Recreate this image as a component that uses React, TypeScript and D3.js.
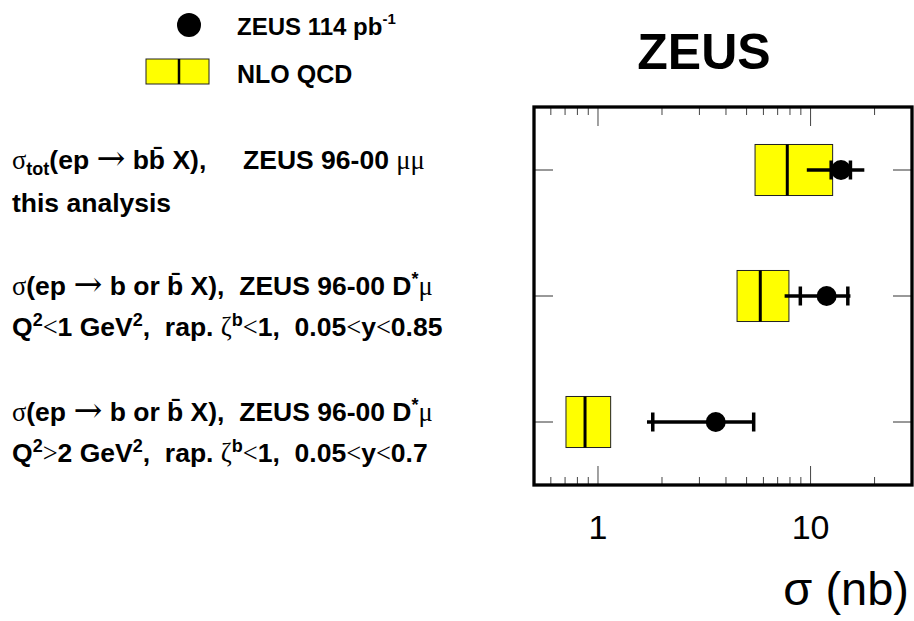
import React from 'react'
import * as d3 from 'd3'

// measurements, one entry per row (top to bottom)
const rows = ['tot', 'dmuLowQ2', 'dmuHighQ2']
const zeusVal = [13.9, 11.9, 3.58]
const statLo = [12.5, 8.95, 1.81]
const statHi = [15.4, 14.97, 5.4]
const totLo = [9.6, 7.55, 1.7]
const totHi = [17.9, 15.4, 5.4]
// NLO QCD band
const nloLo = [5.48, 4.51, 0.707]
const nloMid = [7.77, 5.8, 0.869]
const nloHi = [12.7, 7.91, 1.147]

const xDomain = [0.5, 30]
const majorTicks = [1, 10]
const minorTicks = [0.6, 0.7, 0.8, 0.9, 2, 3, 4, 5, 6, 7, 8, 9, 20]
const tickLabels = ['1', '10']

type Seg = { t: string; sym?: boolean; arrow?: boolean; sub?: boolean; sup?: boolean }

const labelLine1: Seg[][] = [
  [{ t: 'σ', sym: true }, { t: 'tot', sub: true }, { t: '(ep ' }, { t: '→', arrow: true }, { t: ' bb\u0304 X),     ZEUS 96-00 ' }, { t: 'μμ', sym: true }],
  [{ t: 'σ', sym: true }, { t: '(ep ' }, { t: '→', arrow: true }, { t: ' b or b\u0304 X),  ZEUS 96-00 D' }, { t: '*', sup: true }, { t: 'μ', sym: true }],
  [{ t: 'σ', sym: true }, { t: '(ep ' }, { t: '→', arrow: true }, { t: ' b or b\u0304 X),  ZEUS 96-00 D' }, { t: '*', sup: true }, { t: 'μ', sym: true }],
]
const labelLine2: Seg[][] = [
  [{ t: 'this analysis' }],
  [{ t: 'Q' }, { t: '2', sup: true }, { t: '<', sym: true }, { t: '1 GeV' }, { t: '2', sup: true }, { t: ',  rap. ' }, { t: 'ζ', sym: true }, { t: 'b', sup: true }, { t: '<', sym: true }, { t: '1,  0.05' }, { t: '<', sym: true }, { t: 'y' }, { t: '<', sym: true }, { t: '0.85' }],
  [{ t: 'Q' }, { t: '2', sup: true }, { t: '>', sym: true }, { t: '2 GeV' }, { t: '2', sup: true }, { t: ',  rap. ' }, { t: 'ζ', sym: true }, { t: 'b', sup: true }, { t: '<', sym: true }, { t: '1,  0.05' }, { t: '<', sym: true }, { t: 'y' }, { t: '<', sym: true }, { t: '0.7' }],
]

const W = 914
const H = 621
const SANS = '"Liberation Sans", Arial, sans-serif'
const SERIF = '"Liberation Serif", "Times New Roman", serif'
const ARROW = '"DejaVu Serif", "DejaVu Sans", serif'

function RichText({ segs, x, y, size }: { segs: Seg[]; x: number; y: number; size: number }) {
  let cur = 0
  return (
    <text x={x} y={y} fontFamily={SANS} fontWeight="bold" fontSize={size} style={{ whiteSpace: 'pre' }}>
      {segs.map((s, i) => {
        const off = s.sub ? 6 : s.sup ? -10 : s.arrow ? 1 : 0
        const dy = off - cur
        cur = off
        let fs = size
        if (s.sub || s.sup) fs = size * 0.68
        if (s.arrow) fs = size * 1.3
        return (
          <tspan key={i} dy={dy} fontSize={fs}
            fontFamily={s.arrow ? ARROW : s.sym ? SERIF : SANS}
            fontWeight={s.sym || s.arrow ? 'normal' : 'bold'}>
            {s.t}
          </tspan>
        )
      })}
    </text>
  )
}

export default function App() {
  const frame = { left: 534, right: 912, top: 107, bottom: 485 }
  const x = d3.scaleLog().domain(xDomain).range([frame.left, frame.right])
  const y = d3.scaleBand().domain(rows).range([frame.top, frame.bottom])
  const bw = y.bandwidth()
  const cy = (r: string) => (y(r) as number) + bw / 2
  const boxH = bw * 0.405

  return (
    <svg width={W} height={H} style={{ position: 'absolute', left: 0, top: 0, background: '#fff' }}>
      {/* legend */}
      <circle cx={189} cy={25} r={12} fill="#000" />
      <text x={237} y={35} fontFamily={SANS} fontWeight="bold" fontSize={24}>
        ZEUS 114 pb<tspan dy={-11} fontSize={15}>-1</tspan>
      </text>
      <rect x={146} y={59} width={63} height={25} fill="#ffff00" stroke="#222" strokeWidth={1} />
      <line x1={179} x2={179} y1={59} y2={84} stroke="#000" strokeWidth={2.5} />
      <text x={237} y={83} fontFamily={SANS} fontWeight="bold" fontSize={25}>NLO QCD</text>

      {/* title */}
      <text x={704} y={69} textAnchor="middle" fontFamily={SANS} fontWeight="bold" fontSize={50}>ZEUS</text>

      {/* row labels */}
      {rows.map((r, i) => (
        <g key={r}>
          <RichText segs={labelLine1[i]} x={12} y={cy(r) - 1} size={26.5} />
          <RichText segs={labelLine2[i]} x={12} y={cy(r) + (i === 0 ? 42 : 40)} size={26.5} />
        </g>
      ))}

      {/* NLO boxes */}
      {rows.map((r, i) => (
        <g key={r}>
          <rect x={x(nloLo[i])} y={cy(r) - boxH / 2} width={x(nloHi[i]) - x(nloLo[i])} height={boxH}
            fill="#ffff00" stroke="#222" strokeWidth={1} />
          <line x1={x(nloMid[i])} x2={x(nloMid[i])} y1={cy(r) - boxH / 2} y2={cy(r) + boxH / 2} stroke="#000" strokeWidth={3} />
        </g>
      ))}

      {/* data */}
      {rows.map((r, i) => (
        <g key={r}>
          <line x1={x(totLo[i])} x2={x(totHi[i])} y1={cy(r)} y2={cy(r)} stroke="#000" strokeWidth={3.5} />
          {[statLo[i], statHi[i]].map((v, j) => (
            <line key={j} x1={x(v)} x2={x(v)} y1={cy(r) - 9.5} y2={cy(r) + 9.5} stroke="#000" strokeWidth={3.5} />
          ))}
          <circle cx={x(zeusVal[i])} cy={cy(r)} r={10} fill="#000" />
        </g>
      ))}

      {/* y ticks */}
      {rows.map((r) => (
        <g key={r} stroke="#333" strokeWidth={1}>
          <line x1={frame.left} x2={frame.left + 19} y1={cy(r)} y2={cy(r)} />
          <line x1={frame.right - 19} x2={frame.right} y1={cy(r)} y2={cy(r)} />
        </g>
      ))}

      {/* x ticks top and bottom */}
      <g stroke="#444" strokeWidth={1}>
        {majorTicks.map((v) => (
          <g key={v}>
            <line x1={x(v)} x2={x(v)} y1={frame.top} y2={frame.top + 19} />
            <line x1={x(v)} x2={x(v)} y1={frame.bottom} y2={frame.bottom - 19} />
          </g>
        ))}
        {minorTicks.map((v) => (
          <g key={v}>
            <line x1={x(v)} x2={x(v)} y1={frame.top} y2={frame.top + 8} />
            <line x1={x(v)} x2={x(v)} y1={frame.bottom} y2={frame.bottom - 8} />
          </g>
        ))}
      </g>

      {/* frame */}
      <rect x={frame.left} y={frame.top} width={frame.right - frame.left} height={frame.bottom - frame.top}
        fill="none" stroke="#000" strokeWidth={3.3} />

      {/* tick labels */}
      {majorTicks.map((v, i) => (
        <text key={v} x={x(v)} y={539} textAnchor="middle" fontFamily={SANS} fontSize={34}>{tickLabels[i]}</text>
      ))}
      <text x={909} y={605} textAnchor="end" fontFamily={SANS} fontSize={47}>σ (nb)</text>
    </svg>
  )
}
